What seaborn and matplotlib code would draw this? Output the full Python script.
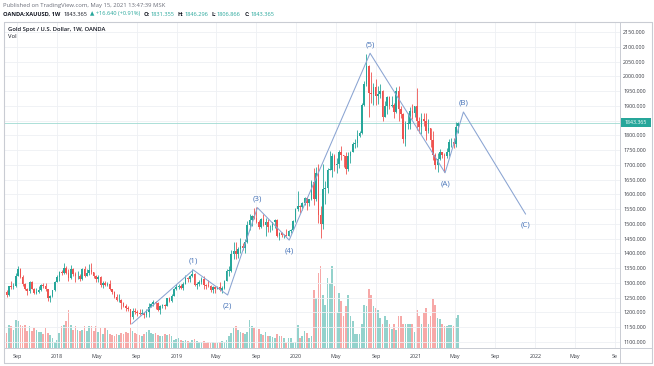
import numpy as np
import pandas as pd
import matplotlib
matplotlib.use("Agg")
import matplotlib.pyplot as plt
from matplotlib.lines import Line2D
from matplotlib.patches import Rectangle
import matplotlib.transforms as mtransforms
import seaborn as sns

# ---------------- data (weekly OANDA XAU/USD) ----------------
first_week = "2017-07-24"
first_open = 1255.0

closes_2017 = [1269, 1258, 1289, 1285, 1291, 1325, 1346, 1320, 1297, 1280, 1274, 1304, 1280, 1266, 1269,
               1275, 1294, 1288, 1280, 1248, 1256, 1275, 1303]
highs_2017 = [1270, 1275, 1291, 1306, 1300, 1334, 1357, 1349, 1326, 1301, 1283, 1306, 1306, 1283, 1284,
              1288, 1297, 1299, 1299, 1280, 1260, 1277, 1305]
lows_2017 = [1249, 1251, 1256, 1279, 1281, 1287, 1323, 1316, 1288, 1275, 1260, 1265, 1278, 1263, 1263,
             1265, 1271, 1282, 1271, 1238, 1236, 1253, 1274]

closes_2018 = [1320, 1338, 1332, 1350, 1333, 1315, 1347, 1330, 1323, 1324, 1313, 1347, 1325, 1332, 1345,
               1336, 1323, 1314, 1319, 1292, 1301, 1294, 1298, 1279, 1270, 1252, 1241, 1241, 1231, 1223,
               1214, 1212, 1184, 1206, 1201, 1198, 1194, 1199, 1192, 1203, 1218, 1227, 1235, 1233, 1209,
               1222, 1223, 1222, 1248, 1238, 1256, 1279, 1287]
highs_2018 = [1326, 1340, 1344, 1366, 1356, 1348, 1361, 1352, 1337, 1341, 1329, 1349, 1356, 1346, 1365,
              1369, 1338, 1328, 1326, 1322, 1307, 1306, 1304, 1309, 1280, 1271, 1264, 1264, 1245, 1236,
              1228, 1222, 1213, 1214, 1214, 1207, 1212, 1211, 1203, 1210, 1233, 1233, 1243, 1238, 1237,
              1226, 1230, 1230, 1250, 1253, 1262, 1284, 1298]
lows_2018 = [1302, 1307, 1326, 1331, 1330, 1306, 1314, 1322, 1303, 1313, 1307, 1310, 1321, 1322, 1326,
             1330, 1316, 1302, 1304, 1285, 1282, 1290, 1288, 1275, 1261, 1250, 1238, 1237, 1211, 1220,
             1204, 1206, 1160, 1178, 1195, 1187, 1191, 1195, 1181, 1183, 1185, 1217, 1221, 1211, 1206,
             1196, 1215, 1212, 1221, 1235, 1235, 1256, 1276]

closes_2019 = [1290, 1282, 1298, 1317, 1314, 1322, 1329, 1294, 1298, 1302, 1313, 1292, 1291, 1290, 1275,
               1286, 1280, 1285, 1277, 1283, 1305, 1341, 1341, 1399, 1409, 1399, 1415, 1426, 1419, 1440,
               1496, 1513, 1527, 1520, 1506, 1488, 1517, 1497, 1505, 1488, 1490, 1505, 1514, 1459, 1468,
               1462, 1464, 1460, 1476, 1478, 1510, 1552]
highs_2019 = [1297, 1298, 1304, 1326, 1320, 1326, 1346, 1334, 1303, 1310, 1320, 1325, 1297, 1310, 1292,
              1289, 1288, 1290, 1303, 1290, 1311, 1348, 1358, 1411, 1439, 1437, 1420, 1452, 1434, 1449,
              1510, 1535, 1531, 1555, 1557, 1513, 1520, 1535, 1519, 1516, 1496, 1507, 1517, 1516, 1474,
              1474, 1466, 1484, 1480, 1482, 1514, 1553]
lows_2019 = [1279, 1280, 1277, 1297, 1302, 1302, 1319, 1290, 1280, 1289, 1298, 1280, 1281, 1287, 1270,
             1266, 1266, 1279, 1273, 1266, 1280, 1305, 1322, 1337, 1382, 1381, 1385, 1401, 1411, 1400,
             1435, 1480, 1492, 1517, 1502, 1484, 1487, 1493, 1459, 1474, 1474, 1480, 1487, 1456, 1445,
             1456, 1452, 1458, 1459, 1470, 1478, 1508]

closes_2020 = [1562, 1557, 1571, 1589, 1570, 1584, 1643, 1585, 1674, 1530, 1498, 1617, 1620, 1683, 1683,
               1729, 1701, 1702, 1743, 1735, 1730, 1685, 1730, 1743, 1771, 1774, 1799, 1808, 1902, 1975,
               2035, 1944, 1940, 1964, 1934, 1941, 1950, 1862, 1900, 1930, 1899, 1902, 1879, 1951, 1889,
               1871, 1788, 1839, 1839, 1881, 1877, 1898]
highs_2020 = [1611, 1564, 1574, 1591, 1591, 1584, 1649, 1689, 1692, 1704, 1560, 1703, 1644, 1690, 1747,
              1739, 1738, 1722, 1751, 1765, 1735, 1745, 1744, 1746, 1779, 1789, 1818, 1815, 1908, 1984,
              2075, 2039, 2015, 1976, 1992, 1966, 1973, 1955, 1917, 1933, 1933, 1932, 1910, 1965, 1966,
              1900, 1875, 1848, 1875, 1896, 1906, 1900]
lows_2020 = [1545, 1536, 1546, 1563, 1547, 1561, 1580, 1563, 1576, 1504, 1451, 1484, 1567, 1606, 1681,
             1660, 1678, 1672, 1688, 1717, 1693, 1670, 1680, 1705, 1743, 1757, 1761, 1794, 1806, 1900,
             1966, 1863, 1911, 1902, 1902, 1906, 1928, 1849, 1873, 1873, 1890, 1895, 1860, 1877, 1850,
             1859, 1775, 1764, 1820, 1823, 1856, 1862]

closes_2021 = [1849, 1828, 1856, 1848, 1814, 1824, 1784, 1734, 1700, 1720, 1745, 1733, 1729, 1744, 1777,
               1777, 1769, 1827, 1843.365]
highs_2021 = [1959, 1863, 1875, 1876, 1875, 1855, 1826, 1816, 1739, 1740, 1755, 1745, 1741, 1758, 1786,
              1790, 1790, 1845, 1846.296]
lows_2021 = [1817, 1808, 1803, 1831, 1785, 1808, 1760, 1717, 1687, 1676, 1718, 1722, 1677, 1722, 1731,
             1760, 1756, 1762, 1806.866]

volume_2017 = [13, 15, 23, 22, 18, 28, 27, 23, 22, 23, 17, 22, 17, 20, 18, 16, 16, 14, 20, 15, 13, 10, 6]
volume_2018 = [8, 15, 22, 23, 27, 38, 23, 18, 22, 18, 17, 18, 22, 17, 22, 22, 17, 22, 16, 20, 14, 20, 18,
               14, 13, 12, 14, 13, 15, 14, 16, 15, 20, 17, 15, 14, 13, 12, 14, 16, 18, 15, 14, 15, 13, 12,
               12, 14, 13, 14, 12, 8, 9]
volume_2019 = [10, 8, 7, 8, 7, 6, 8, 9, 7, 6, 6, 7, 5, 6, 5, 6, 5, 5, 6, 7, 6, 8, 12, 15, 20, 22, 18, 16,
               15, 14, 16, 28, 22, 20, 18, 19, 14, 13, 16, 12, 12, 11, 10, 14, 12, 12, 10, 5, 10, 10, 5, 6]
volume_2020 = [23, 10, 12, 17, 15, 10, 12, 58, 50, 75, 82, 53, 43, 70, 65, 82, 62, 35, 55, 47, 32, 42, 53,
               32, 27, 14, 14, 14, 24, 43, 42, 59, 53, 42, 40, 38, 30, 24, 32, 28, 24, 19, 24, 18, 32, 32,
               24, 24, 24, 24, 24, 16]
volume_2021 = [38, 32, 24, 35, 40, 24, 32, 49, 43, 30, 29, 24, 22, 22, 23, 23, 22, 30, 33]

last_price = 1843.365
last_open = 1831.355

# Elliott wave annotation (drawn by the author)
wave_labels = ["", "(1)", "(2)", "(3)", "(4)", "(5)", "(A)", "(B)", "(C)"]
wave_dates = ["2018-08-17", "2019-02-21", "2019-06-06", "2019-09-05", "2019-12-11",
              "2020-08-14", "2021-03-31", "2021-05-26", "2021-12-02"]
wave_prices = [1161, 1344, 1259, 1555, 1445, 2078, 1673, 1879, 1533]
wave_side = [0, 1, -1, 1, -1, 1, -1, 1, -1]

tick_dates = ["2017-09-01", "2018-01-01", "2018-05-01", "2018-09-01", "2019-01-01", "2019-05-01",
              "2019-09-01", "2020-01-01", "2020-05-01", "2020-09-01", "2021-01-01", "2021-05-01",
              "2021-09-01", "2022-01-01", "2022-05-01", "2022-09-01"]
tick_labels = ["Sep", "2018", "May", "Sep", "2019", "May", "Sep", "2020", "May", "Sep", "2021", "May",
               "Sep", "2022", "May", "Se"]
price_ticks = [p for p in range(1100, 2151, 50) if p != 1850]

header_line1 = "Published on TradingView.com, May 15, 2021 13:47:39 MSK"
header_pieces = [("OANDA:XAUUSD, 1W", "dark", "bold", 0),
                 ("1843.365", "dark", "normal", 2.2),
                 ("\u25b2 +16.640 (+0.91%)", "up", "normal", 1.6),
                 ("O:", "dark", "bold", 2.6),
                 ("1831.355", "up", "normal", 0.4),
                 ("H:", "dark", "bold", 2.6),
                 ("1846.296", "up", "normal", 0.4),
                 ("L:", "dark", "bold", 2.6),
                 ("1806.866", "up", "normal", 0.4),
                 ("C:", "dark", "bold", 2.6),
                 ("1843.365", "up", "normal", 0.4)]

# ---------------- assemble ----------------
closes = np.array(closes_2017 + closes_2018 + closes_2019 + closes_2020 + closes_2021, float)
highs = np.array(highs_2017 + highs_2018 + highs_2019 + highs_2020 + highs_2021, float)
lows = np.array(lows_2017 + lows_2018 + lows_2019 + lows_2020 + lows_2021, float)
volumes = np.array(volume_2017 + volume_2018 + volume_2019 + volume_2020 + volume_2021, float)
n = len(closes)
assert len(highs) == n and len(lows) == n and len(volumes) == n

start = pd.Timestamp(first_week)
idx = np.arange(n, dtype=float)
opens = np.r_[first_open, closes[:-1]]
opens[-1] = last_open
highs = np.maximum(highs, np.maximum(opens, closes))
lows = np.minimum(lows, np.minimum(opens, closes))
up = closes >= opens


def to_week(d):
    return (pd.Timestamp(d) - start).days / 7.0


GREEN, RED = "#26a69a", "#ef5350"
VGREEN, VRED = "#93d2cc", "#f7a9a8"
DARK = "#131722"
GRID = "#eef0f4"
BORDER = "#c9ccd3"
WAVE_LINE = "#8aa4d2"
WAVE_TXT = "#4673b8"
COLORS = {"dark": DARK, "up": GREEN}

sns.set_style("white")
plt.rcParams["font.family"] = ["Open Sans", "DejaVu Sans"]

W, H = 654, 366
fig = plt.figure(figsize=(W / 100, H / 100), dpi=100)
fig.patch.set_facecolor("white")


def fx(px):
    return px / W


def fy(py):
    return 1 - py / H


L, R, T, B = 4, 620, 22, 348
rect = [fx(L), fy(B), fx(R) - fx(L), fy(T) - fy(B)]
ax2 = fig.add_axes(rect)
ax = fig.add_axes(rect, sharex=ax2)
ax.patch.set_visible(False)

# volume (seaborn)
vdf = pd.DataFrame({"week": idx, "volume": volumes, "dir": np.where(up, "up", "down")})
sns.barplot(data=vdf, x="week", y="volume", hue="dir", palette={"up": VGREEN, "down": VRED},
            native_scale=True, dodge=False, width=0.72, legend=False, errorbar=None,
            saturation=1, linewidth=0, ax=ax2)
ax2.set_ylim(0, 326)
ax2.set_xlabel("")
ax2.set_ylabel("")
ax2.tick_params(left=False, bottom=False, labelleft=False, labelbottom=False)
for s in ax2.spines.values():
    s.set_visible(False)

# grid
for p in range(1100, 2151, 50):
    ax.axhline(p, color=GRID, lw=0.6, zorder=0)
tick_x = [to_week(d) for d in tick_dates]
for xv in tick_x:
    ax.axvline(xv, color=GRID, lw=0.6, zorder=0)

# candles
cols = np.where(up, GREEN, RED)
ax.vlines(idx, lows, highs, colors=cols, lw=0.6, zorder=3)
body_bottom = np.minimum(opens, closes)
body_h = np.maximum(np.abs(closes - opens), 2.0)
ax.bar(idx, body_h, bottom=body_bottom, width=0.7, color=cols, linewidth=0, zorder=4)

# price line
ax.axhline(last_price, color="#9fdad2", lw=0.6, zorder=2)

# Elliott wave
wx = [to_week(d) for d in wave_dates]
ax.plot(wx, wave_prices, color=WAVE_LINE, lw=0.75, zorder=5)
for lbl, x, p, s in zip(wave_labels, wx, wave_prices, wave_side):
    if not lbl:
        continue
    off = 6.3 if s > 0 else -8.0
    ax.annotate(lbl, (x, p), xytext=(0, off), textcoords="offset points", ha="center",
                va="center", fontsize=5.8, color=WAVE_TXT, zorder=6)

ax.set_xlim(-0.13, 268.6)
ax.set_ylim(1079.5, 2183.9)
ax.set_xticks(tick_x)
ax.set_xticklabels(tick_labels)
ax.yaxis.tick_right()
ax.set_yticks(price_ticks)
ax.set_yticklabels([f"{p:.3f}" for p in price_ticks])
ax.tick_params(axis="y", length=0, pad=2.3, labelsize=3.9, labelcolor="#3a3d45")
ax.tick_params(axis="x", length=0, pad=4.0, labelsize=3.9, labelcolor="#3a3d45")
for s in ax.spines.values():
    s.set_visible(False)

# last price box
bt = mtransforms.blended_transform_factory(ax.transAxes, ax.transData)
ax.add_patch(Rectangle((1.0015, last_price - 14.5), 30.5 / (R - L), 29.0, transform=bt,
                       facecolor=GREEN, edgecolor="none", clip_on=False, zorder=7))
ax.text(1.0 + 15.7 / (R - L), last_price, f"{last_price:.3f}", transform=bt, ha="center",
        va="center", fontsize=3.8, color="white", clip_on=False, zorder=8)


# frame and separators
def fline(x0, y0, x1, y1, color=BORDER, lw=0.8):
    fig.add_artist(Line2D([fx(x0), fx(x1)], [fy(y0), fy(y1)], transform=fig.transFigure,
                          color=color, lw=lw))


fline(4, 22, 652, 22)
fline(4, 363, 652, 363)
fline(4, 22, 4, 363)
fline(652, 22, 652, 363)
fline(620, 22, 620, 363, lw=0.7)
fline(4, 348, 652, 348, lw=0.7)

# header texts
fig.text(fx(3), fy(5.6), header_line1, fontsize=4.2, color="#6a6d78", va="center", ha="left")

prev = None
for txt, ckey, wgt, gap in header_pieces:
    if prev is None:
        prev = fig.text(fx(3), fy(14), txt, fontsize=4.1, color=COLORS[ckey], fontweight=wgt,
                        va="center", ha="left")
    else:
        prev = fig.add_artist(plt.Annotation(txt, xy=(1, 0), xycoords=prev,
                                             xytext=(gap, 0), textcoords="offset points",
                                             fontsize=4.1, color=COLORS[ckey], fontweight=wgt,
                                             va="bottom", ha="left"))

fig.text(fx(8), fy(29.5), "Gold Spot / U.S. Dollar, 1W, OANDA", fontsize=4.2, color=DARK,
         fontweight="semibold", va="center", ha="left")
fig.text(fx(8), fy(36.5), "Vol", fontsize=4.2, color=DARK, va="center", ha="left")

fig.savefig("out.png", dpi=100, facecolor="white")
